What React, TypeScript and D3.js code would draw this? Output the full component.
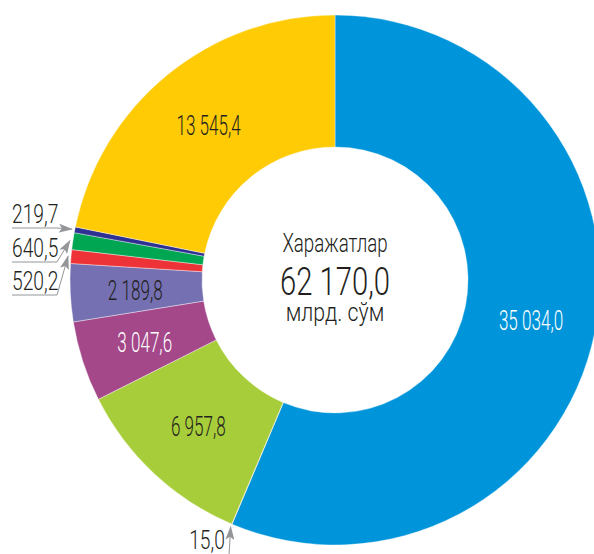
import { useMemo } from 'react';
import * as d3 from 'd3';

// slices clockwise from 12 o'clock
const VALUES = [35034.0, 15.0, 6957.8, 3047.6, 2189.8, 520.2, 640.5, 219.7, 13545.4];
const COLORS = ['#0095da', '#f7941d', '#a8cd3a', '#a4488a', '#7470b2', '#ee3338', '#00a651', '#2e3192', '#ffcb05'];
const TEXT_COLORS = ['#ffffff', '#231f20', '#231f20', '#ffffff', '#231f20', '#231f20', '#231f20', '#231f20', '#231f20'];
// which slices get a callout instead of an inside label
const CALLOUT = [false, true, false, false, false, true, true, true, false];
const TITLE = 'Харажатлар';
const UNIT = 'млрд. сўм';

const W = 594;
const H = 554;
const CX = 335;
const CY = 280;
const R_OUT = 265;
const R_IN = 133;
const FONT = 'Roboto, "Open Sans", sans-serif';
const INK = '#231f20';
const GREY = '#939598';

const locale = d3.formatLocale({ decimal: ',', thousands: '\u00a0', grouping: [3], currency: ['', ''] });
const fmt = locale.format(',.1f');

// left-side callout rows (baseline of text), top to bottom: 219,7 / 640,5 / 520,2
const LEFT_ROWS: Record<number, number> = { 7: 223, 6: 257, 5: 290 };

export default function App() {
  const arcs = useMemo(
    () => d3.pie<number>().sort(null).value(d => d).startAngle(0).endAngle(Math.PI * 2)(VALUES),
    []
  );
  const arc = d3.arc<d3.PieArcDatum<number>>().innerRadius(R_IN).outerRadius(R_OUT);
  const labelArc = d3.arc<d3.PieArcDatum<number>>().innerRadius(200).outerRadius(200);
  const tipArc = d3.arc<d3.PieArcDatum<number>>().innerRadius(R_OUT + 3).outerRadius(R_OUT + 3);
  const total = d3.sum(VALUES);

  const txt = (s: string, x: number, y: number, size: number, sx: number, fill: string, anchor = 'middle') => (
    <text
      transform={`translate(${x},${y}) scale(${sx},1)`}
      textAnchor={anchor}
      fontFamily={FONT}
      fontWeight={300}
      fontSize={size}
      fill={fill}
    >
      {s}
    </text>
  );

  return (
    <svg width={W} height={H} style={{ position: 'fixed', left: 0, top: 0, background: '#fff' }}>
      <defs>
        <marker id="ah" viewBox="0 0 14 9" refX="13" refY="4.5" markerWidth="14" markerHeight="9"
          markerUnits="userSpaceOnUse" orient="auto" preserveAspectRatio="none">
          <path d="M0,0 L14,4.5 L0,9 L3,4.5 Z" fill={GREY} />
        </marker>
      </defs>
      <g transform={`translate(${CX},${CY})`}>
        {arcs.map((a, i) => (
          <path key={i} d={arc(a) ?? ''} fill={COLORS[i]} stroke="#fff" strokeWidth={0.4} />
        ))}
        {arcs.map((a, i) => {
          if (CALLOUT[i]) return null;
          const [x, y] = labelArc.centroid(a);
          return <g key={'l' + i}>{txt(fmt(a.data), x, y + 10, 28, 0.61, TEXT_COLORS[i])}</g>;
        })}
      </g>

      {/* callouts */}
      {arcs.map((a, i) => {
        if (!CALLOUT[i]) return null;
        const [tx, ty] = tipArc.centroid(a);
        const px = tx + CX;
        const py = ty + CY;
        if (LEFT_ROWS[i] !== undefined) {
          const base = LEFT_ROWS[i];
          const ly = base + 5;
          return (
            <g key={'c' + i}>
              {txt(fmt(a.data), 12, base, 26, 0.74, INK, 'start')}
              <path d={`M12,${ly} L57,${ly} L${px},${py}`} fill="none" stroke={GREY} strokeWidth={1}
                markerEnd="url(#ah)" />
            </g>
          );
        }
        return (
          <g key={'c' + i}>
            {txt(fmt(a.data), 207, 549, 26, 0.74, INK)}
            <path d={`M229,556 L${px},${py}`} fill="none" stroke={GREY} strokeWidth={1} markerEnd="url(#ah)" />
          </g>
        );
      })}

      {/* centre */}
      {txt(TITLE, CX, 252, 26, 0.72, INK)}
      {txt(fmt(total), CX, 295, 39, 0.75, INK)}
      {txt(UNIT, CX, 321, 26, 0.82, INK)}
    </svg>
  );
}
